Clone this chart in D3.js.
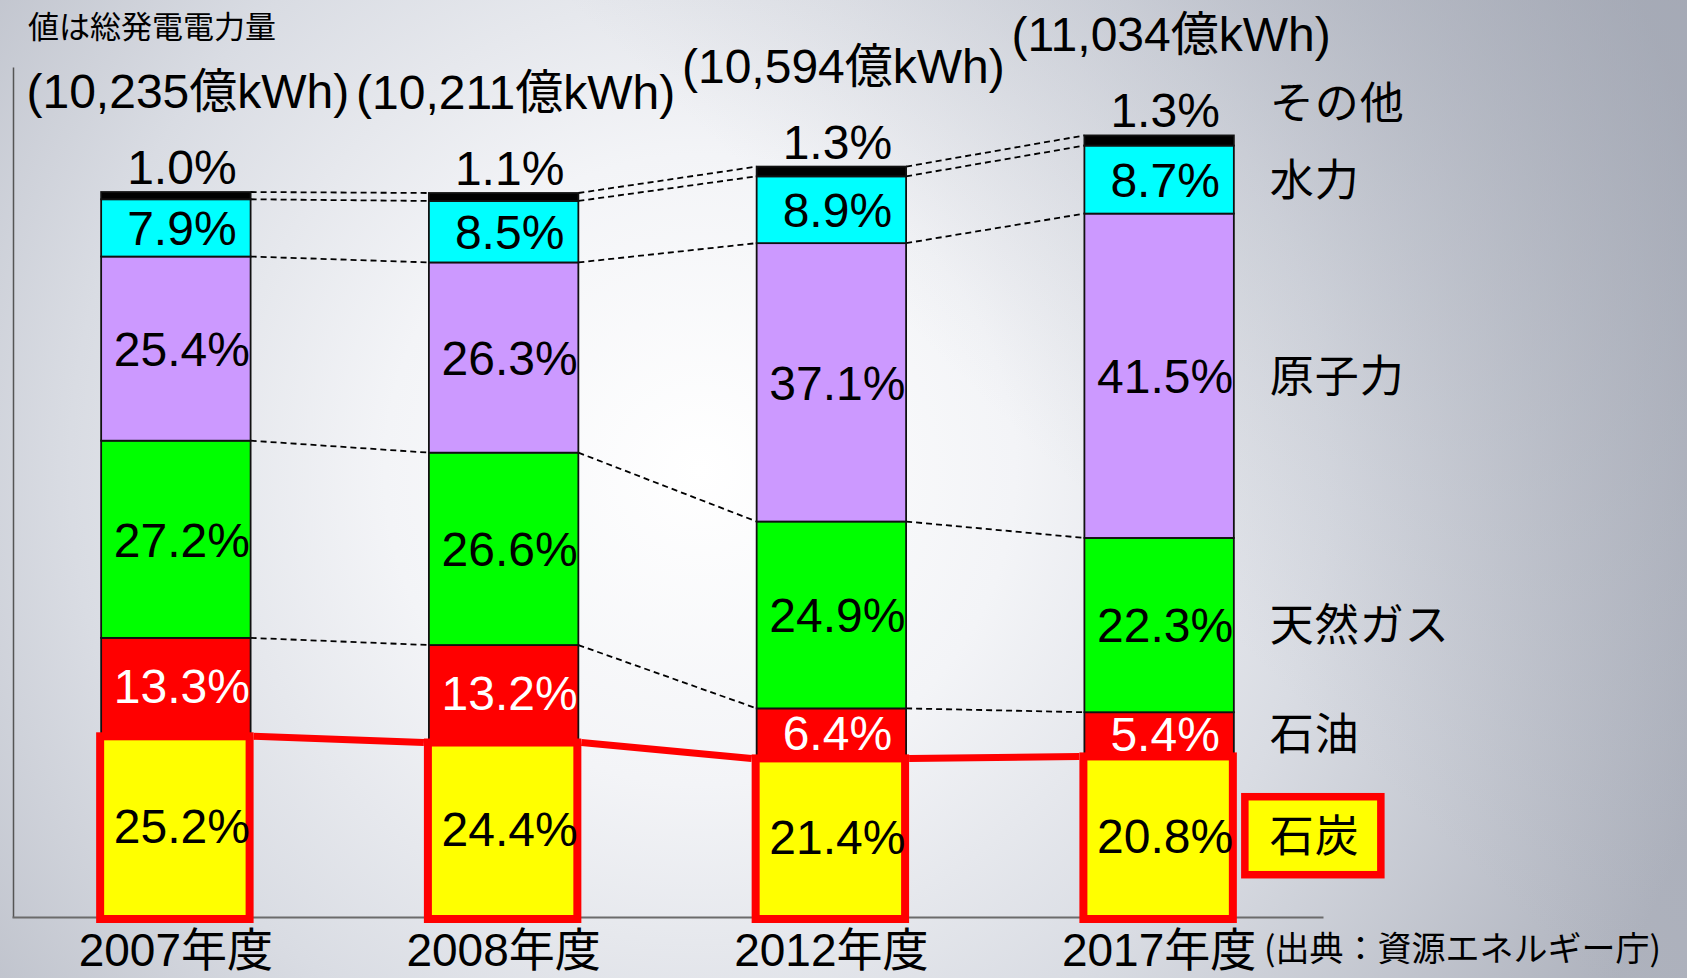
<!DOCTYPE html>
<html><head><meta charset="utf-8">
<script src="https://cdn.jsdelivr.net/npm/d3@7"></script>
<style>html,body{margin:0;padding:0;overflow:hidden;background:#fff}svg{display:block}</style>
</head><body>
<svg id="chart" width="1687" height="978"></svg>
<script>
// ---- data ----
const years = ["2007年度", "2008年度", "2012年度", "2017年度"];
const totals = [10235, 10211, 10594, 11034]; // 億kWh
const sources = ["石炭", "石油", "天然ガス", "原子力", "水力", "その他"];
const coal    = [25.2, 24.4, 21.4, 20.8];
const oil     = [13.3, 13.2, 6.4, 5.4];
const gas     = [27.2, 26.6, 24.9, 22.3];
const nuclear = [25.4, 26.3, 37.1, 41.5];
const hydro   = [7.9, 8.5, 8.9, 8.7];
const other   = [1.0, 1.1, 1.3, 1.3];
const titleText = "値は総発電電力量";
const sourceText = "(出典：資源エネルギー庁)";

// ---- styles ----
const colors = ["#ffff00", "#ff0000", "#00ff00", "#cc99ff", "#00ffff", "#000000"];
const latin = "'Liberation Sans', Arial, 'Noto Sans CJK JP', sans-serif";
const cjk = "'Noto Sans CJK JP', 'Liberation Sans', sans-serif";

const W = 1687, H = 978;
const svg = d3.select("#chart");
const defs = svg.append("defs");

// background
const rg = defs.append("radialGradient").attr("id", "bg")
  .attr("gradientUnits", "userSpaceOnUse").attr("cx", 700).attr("cy", 470).attr("r", 1050);
[[0, "#ffffff"], [0.3, "#f3f4f7"], [0.6, "#d9dce3"], [1, "#aeb2bd"]].forEach(([o, c]) =>
  rg.append("stop").attr("offset", o).attr("stop-color", c));
svg.append("rect").attr("width", W).attr("height", H).attr("fill", "url(#bg)");
const lg = defs.append("linearGradient").attr("id", "ov")
  .attr("gradientUnits", "userSpaceOnUse").attr("x1", 1150).attr("y1", 560).attr("x2", 1687).attr("y2", 0);
lg.append("stop").attr("offset", 0).attr("stop-color", "#9ea3b0").attr("stop-opacity", 0);
lg.append("stop").attr("offset", 1).attr("stop-color", "#9ea3b0").attr("stop-opacity", 0.55);
svg.append("rect").attr("width", W).attr("height", H).attr("fill", "url(#ov)");

// ---- scales ----
const x = d3.scaleBand().domain(years).range([12, 1323]).paddingInner(0.544).paddingOuter(0.272);
const y = d3.scaleLinear().domain([0, 12000]).range([917, 67]);
const bw = x.bandwidth();

const shareArrays = [coal, oil, gas, nuclear, hydro, other];
const rows = years.map((yr, j) => {
  const r = { year: yr };
  sources.forEach((s, i) => r[s] = shareArrays[i][j] * totals[j] / 100);
  return r;
});
const stacked = d3.stack().keys(sources)(rows);

// ---- axes ----
const yAxis = svg.append("g").attr("transform", "translate(13,0)")
  .call(d3.axisLeft(y).tickValues([]).tickSizeOuter(0));
yAxis.select(".domain").attr("stroke", "#555").attr("stroke-width", 1.5);

const xAxis = svg.append("g").attr("transform", `translate(0,${y(0)})`)
  .call(d3.axisBottom(x).tickSize(0).tickSizeOuter(0).tickPadding(16));
xAxis.select(".domain").attr("stroke", "#6b6b6b").attr("stroke-width", 2);
xAxis.selectAll("text").attr("font-family", latin).attr("font-size", 46).attr("fill", "#000");

// ---- dashed connectors ----
const conn = svg.append("g");
for (let i = 1; i < stacked.length; i++) {
  for (let j = 0; j < years.length - 1; j++) {
    conn.append("line")
      .attr("x1", x(years[j]) + bw).attr("y1", y(stacked[i][j][1]))
      .attr("x2", x(years[j + 1])).attr("y2", y(stacked[i][j + 1][1]))
      .attr("stroke", "#000").attr("stroke-width", 1.8).attr("stroke-dasharray", "6,4");
  }
}

// ---- bars ----
const bars = svg.append("g");
stacked.forEach((s, i) => {
  bars.selectAll(null).data(s).enter().append("rect")
    .attr("x", d => x(d.data.year)).attr("width", bw)
    .attr("y", d => y(d[1])).attr("height", d => y(d[0]) - y(d[1]))
    .attr("fill", colors[i]).attr("stroke", "#111").attr("stroke-width", 1.8);
});

// coal highlight boxes
bars.selectAll(null).data(stacked[0]).enter().append("rect")
  .attr("x", d => x(d.data.year) - 1).attr("width", bw)
  .attr("y", d => y(d[1]) + 2).attr("height", d => y(d[0]) - y(d[1]))
  .attr("fill", colors[0]).attr("stroke", "#ff0000").attr("stroke-width", 8);

// red coal line
for (let j = 0; j < years.length - 1; j++) {
  svg.append("line")
    .attr("x1", x(years[j]) + bw + 3).attr("y1", y(stacked[0][j][1]) + 2)
    .attr("x2", x(years[j + 1]) - 5).attr("y2", y(stacked[0][j + 1][1]) + 2)
    .attr("stroke", "#ff0000").attr("stroke-width", 7);
}

// ---- segment labels ----
const fmt = v => d3.format(".1f")(v) + "%";
const lab = svg.append("g").attr("font-family", latin).attr("font-size", 48).attr("text-anchor", "middle");
stacked.forEach((s, i) => {
  if (i === stacked.length - 1) return;
  s.forEach((d, j) => {
    lab.append("text")
      .attr("x", x(d.data.year) + bw / 2 + 6)
      .attr("y", (y(d[0]) + y(d[1])) / 2).attr("dy", "0.36em")
      .attr("fill", i === 1 ? "#fff" : "#000")
      .text(fmt(shareArrays[i][j]));
  });
});
// top (その他) labels
const last = stacked[stacked.length - 1];
last.forEach((d, j) => {
  lab.append("text").attr("x", x(d.data.year) + bw / 2 + 6).attr("y", y(d[1]) - 8)
    .attr("fill", "#000").text(fmt(other[j]));
});
// totals
last.forEach((d, j) => {
  lab.append("text").attr("x", x(d.data.year) + bw / 2 + 12).attr("y", y(d[1]) - 84)
    .attr("fill", "#000").text(`(${d3.format(",")(totals[j])}億kWh)`);
});

// ---- legend labels at right ----
const lastIdx = years.length - 1;
const lx = x(years[lastIdx]) + bw + 36;
const leg = svg.append("g").attr("font-family", cjk).attr("font-size", 44).attr("letter-spacing", 1);
stacked.forEach((s, i) => {
  const d = s[lastIdx];
  let cy = (y(d[0]) + y(d[1])) / 2;
  if (i === stacked.length - 1) cy = y(d[1]) - 33;
  if (i === 0) {
    leg.append("rect").attr("x", x(years[lastIdx]) + bw + 11).attr("y", cy - 39)
      .attr("width", 136).attr("height", 78).attr("fill", colors[0])
      .attr("stroke", "#ff0000").attr("stroke-width", 7.5);
  }
  leg.append("text").attr("x", lx).attr("y", cy).attr("dy", "0.37em").attr("fill", "#000")
    .text(sources[i]);
});

// ---- title fragment & source ----
svg.append("text").attr("x", 276).attr("y", 38).attr("text-anchor", "end")
  .attr("font-family", cjk).attr("font-size", 31).attr("fill", "#000").text(titleText);
svg.append("text").attr("x", 1264).attr("y", 961).attr("text-anchor", "start")
  .attr("font-family", cjk).attr("font-size", 34).attr("fill", "#000").text(sourceText);
</script>
</body></html>
